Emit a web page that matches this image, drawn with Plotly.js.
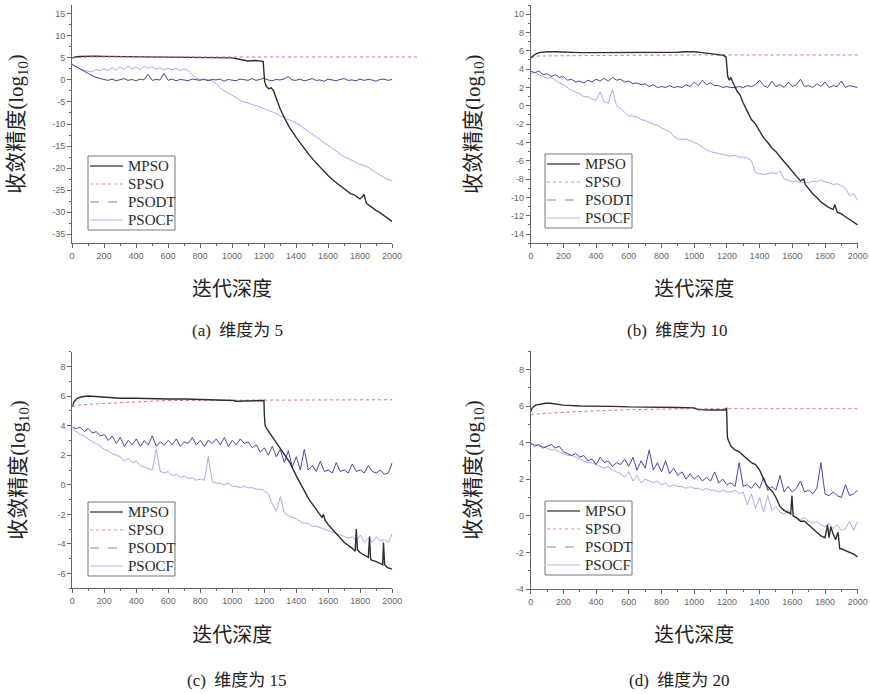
<!DOCTYPE html>
<html><head><meta charset="utf-8">
<script src="https://cdn.plot.ly/plotly-3.0.1.min.js"></script>
<style>html,body{margin:0;padding:0;background:#fff}#chart{width:870px;height:694px}</style>
</head><body><div id="chart"></div>
<script>
// ---------- shared ----------
const SERIES_NAMES = ['MPSO','SPSO','PSODT','PSOCF'];
const X_TICKS = [0,200,400,600,800,1000,1200,1400,1600,1800,2000];
const ITER = [0,25,50,75,100,125,150,175,200,225,250,275,300,325,350,375,400,425,450,475,500,525,550,575,600,625,650,675,700,725,750,775,800,825,850,875,900,925,950,975,1000,1025,1050,1075,1100,1125,1150,1175,1200,1225,1250,1275,1300,1325,1350,1375,1400,1425,1450,1475,1500,1525,1550,1575,1600,1625,1650,1675,1700,1725,1750,1775,1800,1825,1850,1875,1900,1925,1950,1975,2000];
const CAPTIONS = ['(a)  维度为 5','(b)  维度为 10','(c)  维度为 15','(d)  维度为 20'];
const X_TITLE = '迭代深度';
const Y_TITLE = '收敛精度(log<sub>10</sub>)';

// ---------- (a) dimension 5 ----------
const A_YTICKS = [-35,-30,-25,-20,-15,-10,-5,0,5,10,15];
const A_MPSO_X = [0,20,50,100,150,200,300,400,500,600,700,800,900,1000,1030,1060,1100,1140,1170,1195,1200,1205,1215,1230,1245,1260,1280,1300,1330,1360,1400,1440,1480,1520,1560,1600,1640,1680,1700,1720,1740,1760,1780,1800,1815,1825,1840,1860,1880,1900,1920,1940,1960,1980,2000];
const A_MPSO_Y = [5.0,5.2,5.3,5.4,5.4,5.35,5.3,5.2,5.15,5.1,5.1,5.05,5.05,5.0,4.8,4.6,4.3,4.4,4.3,4.2,1.5,-0.5,-1.5,-2.0,-1.8,-2.5,-4.5,-6.5,-8.8,-10.8,-13.0,-15.0,-16.9,-18.6,-20.2,-21.7,-23.0,-24.2,-24.8,-25.2,-25.8,-26.0,-26.6,-27.0,-26.5,-26.0,-28.0,-28.6,-29.2,-29.6,-30.0,-30.5,-31.0,-31.6,-32.1];
const A_SPSO_X = [0,100,400,800,1200,1600,2000,2170];
const A_SPSO_Y = [5.0,5.2,5.2,5.2,5.2,5.2,5.2,5.2];
const A_PSODT_Y = [3.5,3.0,2.4,2.0,1.4,1.0,0.6,0.3,0.1,-0.1,
 0.2,-0.2,0.0,0.3,-0.1,0.1,-0.2,0.2,0.0,1.3,
 -0.1,0.1,0.0,1.5,-0.1,0.2,-0.2,0.1,0.0,-0.2,
 0.2,0.0,-0.1,0.2,-0.2,0.1,0.0,0.2,-0.3,0.1,
 0.0,-0.2,0.2,0.0,-0.1,0.3,-0.1,0.1,0.4,0.0,
 -0.2,0.1,0.0,0.2,0.8,0.0,-0.1,0.2,-0.2,0.0,
 0.3,-0.1,0.0,-0.3,0.2,0.0,-0.2,0.1,0.3,-0.1,
 0.0,-0.2,0.2,-0.1,0.1,0.0,-0.3,0.1,0.2,-0.1,
 0.1];
const A_PSOCF_Y = [3.6,3.0,2.5,2.2,2.0,1.8,2.4,2.0,2.6,2.1,
 2.8,2.2,3.0,2.4,3.2,2.5,2.9,2.3,3.1,2.6,
 3.0,2.4,2.8,2.2,2.7,2.3,2.6,2.1,2.5,2.2,
 1.2,0.4,0.1,0.0,0.1,-0.2,-0.8,-1.8,-2.4,-3.0,
 -3.4,-4.0,-4.6,-5.0,-5.2,-5.6,-5.8,-6.2,-6.5,-6.9,
 -7.2,-7.6,-8.2,-8.4,-9.0,-9.3,-9.8,-10.3,-11.0,-11.6,
 -12.3,-12.8,-13.5,-14.3,-14.8,-15.5,-16.2,-16.9,-17.4,-17.8,
 -18.2,-18.7,-19.2,-19.4,-19.8,-20.5,-21.0,-21.6,-22.2,-22.6,
 -22.8];

// ---------- (b) dimension 10 ----------
const B_YTICKS = [-14,-12,-10,-8,-6,-4,-2,0,2,4,6,8,10];
const B_MPSO_X = [0,10,25,50,75,100,150,200,300,400,500,600,700,800,900,950,1000,1050,1100,1150,1180,1195,1200,1205,1215,1225,1235,1250,1265,1280,1300,1325,1350,1375,1400,1425,1450,1475,1500,1525,1550,1575,1600,1625,1650,1670,1680,1700,1725,1750,1775,1800,1825,1850,1860,1875,1900,1925,1950,1975,2000];
const B_MPSO_Y = [5.2,5.4,5.6,5.8,5.85,5.9,5.9,5.85,5.8,5.8,5.8,5.8,5.8,5.85,5.85,5.9,5.9,5.8,5.7,5.6,5.5,5.3,4.2,3.2,2.8,3.1,2.6,2.0,1.5,1.2,0.3,-0.6,-1.5,-2.0,-2.7,-3.5,-4.0,-4.6,-5.0,-5.6,-6.1,-6.6,-7.2,-7.7,-8.2,-8.0,-8.6,-9.1,-9.6,-10.0,-10.5,-10.8,-11.1,-11.3,-10.8,-11.6,-11.8,-12.1,-12.4,-12.7,-13.0];
const B_SPSO_X = [0,100,500,1000,2000];
const B_SPSO_Y = [5.4,5.45,5.5,5.55,5.55];
const B_PSODT_Y = [3.8,3.6,3.8,3.4,3.5,3.2,3.4,3.1,3.2,2.8,
 2.9,2.6,2.7,2.5,2.8,2.6,2.9,2.7,3.0,2.7,
 3.1,2.8,2.9,2.6,2.7,2.4,2.5,2.3,2.4,2.1,
 2.3,2.0,2.1,2.0,2.2,2.0,2.1,2.0,2.3,2.1,
 2.6,2.2,2.8,2.3,2.5,2.2,2.2,2.0,2.1,2.0,
 2.0,2.1,2.0,2.2,2.1,2.3,2.8,2.2,2.0,2.7,
 2.1,2.3,2.0,2.6,2.1,2.3,2.9,2.1,2.2,2.0,
 2.4,2.1,2.6,2.0,2.2,2.1,2.7,2.0,2.2,2.1,
 2.0];
const B_PSOCF_Y = [3.5,3.7,3.4,3.2,3.0,3.1,2.8,2.5,2.3,2.0,
 1.7,1.5,1.3,1.0,1.0,0.7,0.6,1.5,0.4,0.3,
 1.8,0.0,-0.3,-0.7,-1.1,-1.1,-1.2,-1.5,-1.6,-1.8,
 -2.0,-2.1,-2.4,-2.6,-2.8,-3.3,-3.6,-3.7,-3.6,-3.8,
 -4.0,-4.2,-4.5,-4.8,-5.0,-5.1,-5.2,-5.3,-5.4,-5.5,
 -5.4,-5.6,-5.6,-5.7,-6.0,-7.3,-7.4,-7.5,-7.4,-7.3,
 -7.4,-7.1,-8.0,-8.1,-8.3,-8.2,-8.4,-8.3,-8.4,-8.2,
 -8.3,-8.1,-8.3,-8.4,-8.6,-8.5,-8.7,-9.0,-9.8,-9.6,
 -10.3];

// ---------- (c) dimension 15 ----------
const C_YTICKS = [-6,-4,-2,0,2,4,6,8];
const C_MPSO_X = [0,10,30,60,100,150,200,300,400,500,600,700,800,900,1000,1010,1020,1100,1190,1198,1200,1205,1215,1240,1280,1320,1360,1400,1440,1480,1520,1560,1570,1580,1600,1650,1700,1750,1768,1775,1782,1800,1850,1858,1864,1870,1900,1940,1945,1952,1970,2000];
const C_MPSO_Y = [5.3,5.6,5.85,5.95,6.0,5.95,5.9,5.85,5.85,5.8,5.8,5.8,5.78,5.77,5.75,5.7,5.65,5.65,5.65,5.7,4.8,4.0,3.8,3.4,2.8,2.2,1.5,0.6,-0.2,-1.0,-1.6,-2.2,-2.0,-2.4,-2.7,-3.3,-3.9,-4.3,-4.5,-3.0,-4.4,-4.6,-4.9,-3.5,-5.0,-5.1,-5.2,-5.4,-3.9,-5.4,-5.6,-5.7];
const C_SPSO_X = [0,50,200,400,600,1000,2000];
const C_SPSO_Y = [5.3,5.4,5.5,5.6,5.7,5.72,5.75];
const C_PSODT_Y = [3.9,3.8,3.9,3.6,3.8,3.5,3.6,3.3,3.4,3.0,
 3.3,2.8,3.2,2.6,3.0,2.7,3.1,2.6,3.0,2.7,
 3.3,2.6,2.9,2.7,3.0,2.7,3.1,2.6,2.9,2.8,
 3.2,2.7,3.0,2.6,3.0,2.8,3.1,2.7,3.2,2.6,
 3.0,2.7,3.1,2.8,2.9,2.5,2.7,2.2,2.5,2.0,
 2.6,1.9,2.4,1.5,2.3,1.2,1.9,1.0,2.4,1.0,
 1.3,0.9,1.6,0.9,1.0,0.8,1.5,0.9,1.0,0.8,
 1.4,0.9,1.0,0.8,1.3,0.9,0.8,1.0,0.7,0.8,
 1.5];
const C_PSOCF_Y = [3.8,3.6,3.4,3.3,3.1,2.9,2.8,2.6,2.4,2.3,
 2.1,2.0,1.9,1.6,1.8,1.5,1.6,1.3,1.2,1.1,
 1.0,2.4,0.9,0.8,0.9,0.6,0.7,0.5,0.6,0.4,
 0.5,0.3,0.4,0.3,1.9,0.2,0.1,0.1,0.0,0.1,
 -0.1,-0.1,-0.2,-0.1,-0.2,-0.2,-0.3,-0.3,-0.4,-0.6,
 -1.3,-1.8,-0.8,-1.9,-2.1,-2.2,-2.3,-2.5,-2.6,-2.6,
 -2.8,-2.8,-2.9,-3.0,-3.1,-3.2,-3.3,-3.4,-3.5,-3.6,
 -3.5,-3.8,-3.4,-3.9,-3.6,-3.9,-3.5,-3.8,-3.7,-3.9,
 -3.3];

// ---------- (d) dimension 20 ----------
const D_YTICKS = [-4,-2,0,2,4,6,8];
const D_MPSO_X = [0,10,30,60,90,120,150,200,300,400,500,600,700,800,900,1000,1010,1025,1100,1150,1190,1198,1200,1203,1210,1225,1250,1275,1300,1325,1350,1375,1400,1420,1440,1460,1480,1500,1525,1550,1575,1590,1598,1605,1625,1650,1675,1700,1725,1750,1775,1800,1815,1825,1835,1850,1865,1880,1890,1900,1925,1950,1975,2000];
const D_MPSO_Y = [5.7,5.9,6.05,6.12,6.15,6.15,6.1,6.05,6.0,6.0,5.98,5.95,5.95,5.93,5.92,5.9,5.85,5.8,5.78,5.77,5.78,5.9,5.0,4.3,4.1,3.8,3.6,3.5,3.3,3.1,2.9,2.8,2.5,2.1,1.7,1.5,1.3,1.0,0.5,0.3,0.2,0.1,1.1,0.0,-0.1,-0.3,-0.3,-0.5,-0.7,-0.9,-1.1,-1.2,-0.5,-1.2,-0.6,-1.0,-1.3,-0.9,-1.8,-1.8,-1.9,-2.0,-2.1,-2.25];
const D_SPSO_X = [0,20,100,300,600,1000,2000];
const D_SPSO_Y = [5.5,5.55,5.6,5.7,5.8,5.85,5.85];
const D_PSODT_Y = [4.0,3.8,3.9,3.7,3.8,3.9,3.7,3.8,3.5,3.4,
 3.3,3.4,3.2,3.3,3.0,3.1,2.8,3.2,2.9,3.0,
 2.7,2.9,2.8,3.1,2.7,3.2,2.5,3.0,2.6,3.6,
 2.5,2.9,2.4,3.0,2.3,2.6,2.2,2.4,2.0,2.3,
 2.0,2.2,1.9,2.1,1.9,2.4,1.8,2.0,1.7,1.8,
 1.6,2.9,1.6,1.7,1.5,1.8,1.5,2.1,1.4,1.6,
 1.4,2.2,1.3,1.6,1.3,1.5,1.9,1.3,1.4,1.2,
 1.5,2.9,1.2,1.1,1.3,1.1,1.0,1.7,1.1,1.2,
 1.4];
const D_PSOCF_Y = [3.9,3.9,3.8,3.8,3.7,3.6,3.6,3.5,3.4,3.3,
 3.3,3.2,3.1,3.0,2.9,2.9,2.8,2.7,2.6,2.7,
 2.5,2.4,2.3,2.1,2.4,1.9,2.2,1.8,2.0,1.9,
 1.8,1.9,1.7,1.8,1.6,1.7,1.6,1.6,1.5,1.6,
 1.5,1.5,1.4,1.5,1.4,1.4,1.3,1.4,1.3,1.3,
 1.4,1.2,1.3,0.6,1.2,0.4,1.0,0.2,1.1,0.3,
 0.5,0.2,0.1,0.3,0.0,-0.1,-0.2,-0.1,-0.3,-0.4,
 -0.3,-0.5,-0.6,-0.4,-0.7,-0.5,-0.8,-0.7,-0.3,-0.8,
 -0.3];

// ---------- styles ----------
const W = 870, H = 694;
const STYLE = {
  MPSO:  {color:'#2e2e2e', width:1.4, dash:'solid'},
  SPSO:  {color:'#e86a78', width:1.0, dash:'dot'},
  PSODT: {color:'#4646a6', width:1.0, dash:'solid'},
  PSOCF: {color:'#a9a9f0', width:1.0, dash:'solid'}
};
const LEG_STYLE = {
  MPSO:  {color:'#555555', width:1.5, dash:'solid'},
  SPSO:  {color:'#f08a96', width:1.2, dash:'dot'},
  PSODT: {color:'#8a8a8a', width:1.2, dash:'dash'},
  PSOCF: {color:'#b4b4f2', width:1.2, dash:'solid'}
};

const panels = [
  {id:'',  mpso:[A_MPSO_X,A_MPSO_Y], spso:[A_SPSO_X,A_SPSO_Y], dt:A_PSODT_Y, cf:A_PSOCF_Y, spsoX:'x5', leg:[88,156]},
  {id:'2', mpso:[B_MPSO_X,B_MPSO_Y], spso:[B_SPSO_X,B_SPSO_Y], dt:B_PSODT_Y, cf:B_PSOCF_Y, leg:[545,154]},
  {id:'3', mpso:[C_MPSO_X,C_MPSO_Y], spso:[C_SPSO_X,C_SPSO_Y], dt:C_PSODT_Y, cf:C_PSOCF_Y, leg:[88,502]},
  {id:'4', mpso:[D_MPSO_X,D_MPSO_Y], spso:[D_SPSO_X,D_SPSO_Y], dt:D_PSODT_Y, cf:D_PSOCF_Y, leg:[545,501]}
];

const traces = [];
const shapes = [];
const legendAnns = [];
const legFont = {family:'Liberation Serif, Times New Roman, serif', size:15, color:'#2a2a2a'};
panels.forEach(p => {
  const xa = 'x' + p.id, ya = 'y' + p.id;
  const base = {mode:'lines', showlegend:false, hoverinfo:'skip', xaxis:xa, yaxis:ya};
  traces.push(Object.assign({}, base, {x:ITER, y:p.cf, line:STYLE.PSOCF, name:'PSOCF'}));
  traces.push(Object.assign({}, base, {x:ITER, y:p.dt, line:STYLE.PSODT, name:'PSODT'}));
  traces.push(Object.assign({}, base, {x:p.spso[0], y:p.spso[1], line:STYLE.SPSO, name:'SPSO', xaxis:p.spsoX || xa}));
  traces.push(Object.assign({}, base, {x:p.mpso[0], y:p.mpso[1], line:STYLE.MPSO, name:'MPSO'}));
  // legend box (paper coordinates)
  const bx = p.leg[0], by = p.leg[1];
  shapes.push({type:'rect', xref:'paper', yref:'paper', x0:bx/W, x1:(bx+87)/W, y0:1-(by+74)/H, y1:1-by/H,
    line:{color:'#777', width:1}, fillcolor:'#fff', layer:'above'});
  SERIES_NAMES.forEach((n, i) => {
    const ry = by + 10 + i*18;
    shapes.push({type:'line', xref:'paper', yref:'paper', x0:(bx+2)/W, x1:(bx+35)/W, y0:1-ry/H, y1:1-ry/H,
      line:LEG_STYLE[n], layer:'above'});
    legendAnns.push({text:n, x:(bx+38)/W, y:1-ry/H, xref:'paper', yref:'paper', xanchor:'left', yanchor:'middle',
      showarrow:false, font:legFont});
  });
});

const tickFont = {family:'Liberation Sans, Arial', size:9, color:'#666'};
const cjkFont = {family:'Noto Sans CJK SC', size:20, color:'#222'};
const capFont = {family:'Liberation Serif, Noto Sans CJK SC', size:17, color:'#222'};
const yTitleFont = {family:'Liberation Serif, Noto Sans CJK SC', size:21, color:'#222'};
function xAxis(l, r, anchor, standoff) {
  return {domain:[l/W, r/W], anchor:anchor, range:[0,2000], showgrid:false, zeroline:false,
    showline:true, linecolor:'#666', linewidth:1, ticks:'outside', ticklen:4, tickcolor:'#666',
    tickmode:'array', tickvals:X_TICKS, ticktext:X_TICKS.map(String), tickfont:tickFont,
    minor:{ticks:'outside', ticklen:2, tickcolor:'#666', tick0:0, dtick:100},
    title:{text:X_TITLE, font:cjkFont, standoff:standoff}};
}
function yAxis(top, bottom, range, ticks, minorStep, anchor, standoff) {
  return {domain:[1-bottom/H, 1-top/H], anchor:anchor, range:range, showgrid:false, zeroline:false,
    showline:true, linecolor:'#666', linewidth:1, ticks:'outside', ticklen:4, tickcolor:'#666',
    tickmode:'array', tickvals:ticks, ticktext:ticks.map(String), tickfont:tickFont,
    minor:{ticks:'outside', ticklen:2, tickcolor:'#666', tick0:0, dtick:minorStep},
    title:{text:Y_TITLE, font:yTitleFont, standoff:standoff}};
}
function ann(text, px, py, font) {
  return {text:text, x:px/W, y:1-py/H, xref:'paper', yref:'paper', xanchor:'center', yanchor:'middle',
    showarrow:false, font:font};
}

const layout = {
  width:W, height:H, margin:{l:0,r:0,t:0,b:0}, paper_bgcolor:'#fff', plot_bgcolor:'rgba(0,0,0,0)',
  showlegend:false,
  xaxis: xAxis(72, 392, 'y', 22),
  yaxis: yAxis(5, 243, [-37,17], A_YTICKS, 2.5, 'x', 22),
  xaxis2: xAxis(530.7, 857.7, 'y2', 21),
  yaxis2: yAxis(5, 243.3, [-15,11], B_YTICKS, 1, 'x2', 24),
  xaxis3: xAxis(72.3, 392.3, 'y3', 22),
  yaxis3: yAxis(351.7, 588.3, [-7,9], C_YTICKS, 1, 'x3', 26),
  xaxis4: xAxis(530.7, 857.7, 'y4', 22),
  yaxis4: yAxis(351.1, 589, [-4,9], D_YTICKS, 1, 'x4', 29),
  xaxis5: {domain:[72/W, 425/W], anchor:'y', range:[0, 2000*353/320], visible:false, showgrid:false, zeroline:false},
  shapes: shapes,
  annotations: [
    ann(CAPTIONS[0], 237, 330, capFont), ann(CAPTIONS[1], 677, 330, capFont),
    ann(CAPTIONS[2], 237, 680, capFont), ann(CAPTIONS[3], 679, 680, capFont)
  ].concat(legendAnns)
};

Plotly.newPlot('chart', traces, layout, {staticPlot:true, displayModeBar:false});
</script>
</body></html>
